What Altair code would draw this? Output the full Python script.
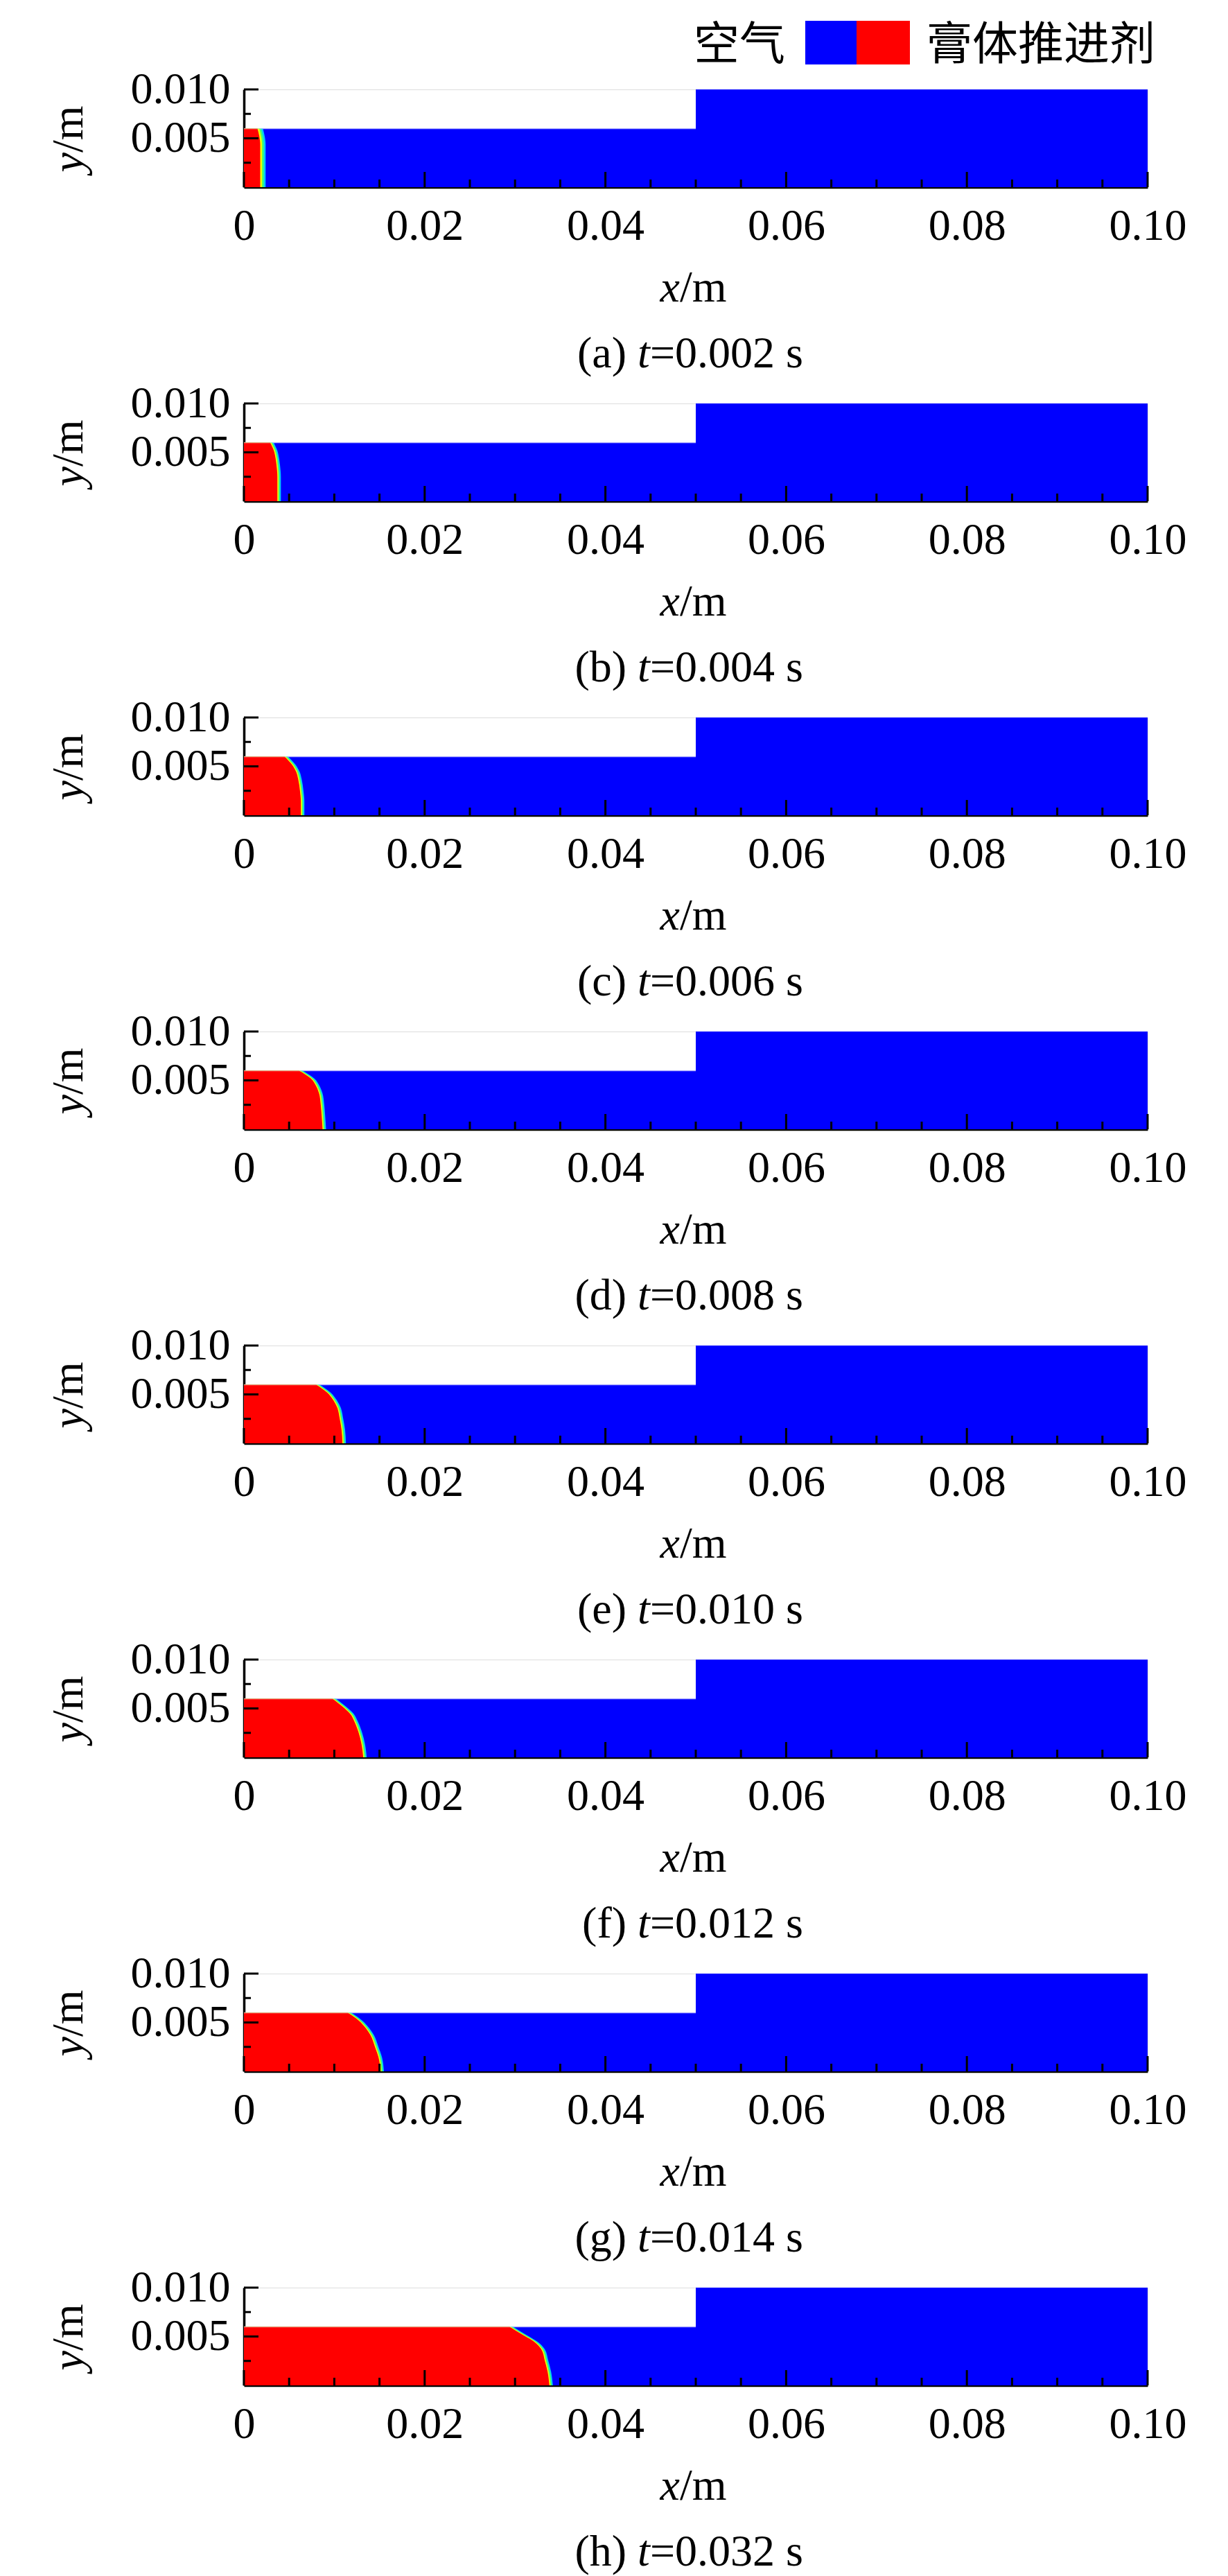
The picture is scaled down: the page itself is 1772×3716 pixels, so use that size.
import altair as alt
import pandas as pd

# ---------------- data ----------------
panel_tags = ["(a)", "(b)", "(c)", "(d)", "(e)", "(f)", "(g)", "(h)"]
time_texts = ["=0.002 s", "=0.004 s", "=0.006 s", "=0.008 s",
              "=0.010 s", "=0.012 s", "=0.014 s", "=0.032 s"]

# interface (propellant front) : x position at each height y
front_y = [0.0, 0.0014, 0.0025, 0.0037, 0.0044, 0.0052, 0.0060]
front_a = [0.0018, 0.0018, 0.0018, 0.0018, 0.0018, 0.0017, 0.0015]
front_b = [0.0037, 0.0037, 0.0037, 0.0036, 0.0035, 0.0033, 0.0029]
front_c = [0.0063, 0.0063, 0.0062, 0.0060, 0.0058, 0.0053, 0.0045]
front_d = [0.0087, 0.0086, 0.0085, 0.0083, 0.0080, 0.0074, 0.0061]
front_e = [0.0109, 0.0108, 0.0106, 0.0103, 0.0099, 0.0092, 0.0080]
front_f = [0.0132, 0.0130, 0.0127, 0.0122, 0.0118, 0.0109, 0.0098]
front_g = [0.0151, 0.0149, 0.0145, 0.0140, 0.0135, 0.0127, 0.0115]
front_h = [0.0338, 0.0336, 0.0333, 0.0329, 0.0322, 0.0308, 0.0294]
fronts = [front_a, front_b, front_c, front_d, front_e, front_f, front_g, front_h]
band_step = [0.0002, 0.00013, 0.00013, 0.00013, 0.00013, 0.00013, 0.00013, 0.00013]

# duct geometry (two sections)
duct_x = [0.0, 0.05]
duct_x2 = [0.05, 0.10]
duct_y = [0.0, 0.0]
duct_y2 = [0.006, 0.010]

# axes
x_major = [0.0, 0.02, 0.04, 0.06, 0.08, 0.10]
x_minor = [0.005, 0.01, 0.015, 0.025, 0.03, 0.035, 0.045, 0.05, 0.055,
           0.065, 0.07, 0.075, 0.085, 0.09, 0.095]
y_major = [0.005, 0.010]
y_minor = [0.0025, 0.0075]
x_domain = [0.0, 0.10]
y_domain = [0.0, 0.010]

legend_left = "空气"
legend_right = "膏体推进剂"

# ---------------- styling ----------------
W, H = 1304, 141
SERIF = "Liberation Serif"
CJK = "Noto Sans CJK SC"
FS = 64
BLUE = "#0000ff"
RED = "#ff0000"
band_colors = ["#00c8ff", "#40ff70", "#f0ff00"]

xs = alt.Scale(domain=x_domain, nice=False, zero=False)
ys = alt.Scale(domain=y_domain, nice=False, zero=False)

x_axis = alt.Axis(values=x_major, title=None, grid=False, ticks=False, tickSize=0,
                  domainColor="black", domainWidth=3.5,
                  labelExpr="datum.value == 0 ? '0' : format(datum.value, '.2f')",
                  labelFont=SERIF, labelFontSize=FS, labelColor="black",
                  labelPadding=24, labelFlush=False, labelOverlap=False)
y_axis = alt.Axis(values=y_major, title=None, grid=False, ticks=False, tickSize=0,
                  format=".3f", domainColor="black", domainWidth=3.5,
                  labelFont=SERIF, labelFontSize=FS, labelColor="black",
                  labelPadding=20, labelFlush=False, labelOverlap=False)

duct_df = pd.DataFrame({"x": duct_x, "x2": duct_x2, "y": duct_y, "y2": duct_y2})
xmaj_df = pd.DataFrame({"v": x_major})
xmin_df = pd.DataFrame({"v": x_minor})
ymaj_df = pd.DataFrame({"v": y_major})
ymin_df = pd.DataFrame({"v": y_minor})
edge_df = pd.DataFrame({"x": [duct_x[0]], "x2": [duct_x2[0]], "y": [duct_y2[0]]})


def text_layer(s, x, y, italic=False, align="left", angle=0, font=SERIF,
               baseline="alphabetic", size=FS):
    kw = dict(font=font, fontSize=size, color="black", align=align, baseline=baseline)
    if italic:
        kw["fontStyle"] = "italic"
    if angle:
        kw["angle"] = angle
    return alt.Chart(pd.DataFrame({"s": [s]})).mark_text(**kw).encode(
        text="s:N", x=alt.value(x), y=alt.value(y))


def panel(i):
    base_rect = alt.Chart(duct_df).mark_rect(color=BLUE).encode(
        x=alt.X("x:Q", scale=xs, axis=x_axis),
        x2="x2:Q",
        y=alt.Y("y:Q", scale=ys, axis=y_axis),
        y2="y2:Q",
    )
    fdf = pd.DataFrame({"y": front_y, "xf": fronts[i], "x0": [0.0] * len(front_y)})
    layers = [base_rect]
    step = band_step[i]
    for k, col in enumerate(band_colors):
        off = step * (3 - k)
        layers.append(
            alt.Chart(fdf).transform_calculate(xe=f"datum.xf + {off}")
            .mark_area(color=col, orient="horizontal", interpolate="monotone")
            .encode(x=alt.X("xe:Q", scale=xs), x2="x0:Q", y=alt.Y("y:Q", scale=ys))
        )
    layers.append(
        alt.Chart(fdf).mark_area(color=RED, orient="horizontal", interpolate="monotone")
        .encode(x=alt.X("xf:Q", scale=xs), x2="x0:Q", y=alt.Y("y:Q", scale=ys))
    )
    # lighter top edge of narrow section
    layers.append(
        alt.Chart(edge_df).mark_rule(color="white", opacity=0.35, strokeWidth=2)
        .encode(x=alt.X("x:Q", scale=xs), x2="x2:Q", y=alt.Y("y:Q", scale=ys))
    )
    # inward ticks
    layers.append(alt.Chart(xmaj_df).mark_rule(color="black", strokeWidth=3).encode(
        x=alt.X("v:Q", scale=xs), y=alt.value(H), y2=alt.value(H - 22)))
    layers.append(alt.Chart(xmin_df).mark_rule(color="black", strokeWidth=3).encode(
        x=alt.X("v:Q", scale=xs), y=alt.value(H), y2=alt.value(H - 11)))
    layers.append(alt.Chart(ymaj_df).mark_rule(color="black", strokeWidth=3).encode(
        y=alt.Y("v:Q", scale=ys), x=alt.value(0), x2=alt.value(21)))
    layers.append(alt.Chart(ymin_df).mark_rule(color="black", strokeWidth=3).encode(
        y=alt.Y("v:Q", scale=ys), x=alt.value(0), x2=alt.value(10)))
    # axis titles
    layers.append(text_layer("y", -233, 91, italic=True, align="right", angle=270))
    layers.append(text_layer("/m", -233, 91, align="left", angle=270))
    layers.append(text_layer("x", 629, 306, italic=True, align="right"))
    layers.append(text_layer("/m", 629, 306, align="left"))
    # caption
    layers.append(text_layer(panel_tags[i], 552, 401, align="right"))
    layers.append(text_layer("t", 568, 401, italic=True, align="left"))
    layers.append(text_layer(time_texts[i], 586, 401, align="left"))
    if i == 0:
        leg = pd.DataFrame({"a": [0]})
        layers.append(alt.Chart(leg).mark_rect(color=BLUE).encode(
            x=alt.value(810), x2=alt.value(884), y=alt.value(-99), y2=alt.value(-36)))
        layers.append(alt.Chart(leg).mark_rect(color=RED).encode(
            x=alt.value(884), x2=alt.value(961), y=alt.value(-99), y2=alt.value(-36)))
        layers.append(text_layer(legend_left, 781, -43, align="right", font=CJK, size=66))
        layers.append(text_layer(legend_right, 985, -43, align="left", font=CJK, size=66))
    return alt.layer(*layers).properties(width=W, height=H)


chart = alt.vconcat(*[panel(i) for i in range(8)], spacing=312, bounds="flush").properties(
    padding={"left": 59, "top": 21, "right": 5, "bottom": 5}
).configure_view(stroke="transparent").configure(background="white")

chart.save("out.html", embed_options={"renderer": "svg", "actions": False})
